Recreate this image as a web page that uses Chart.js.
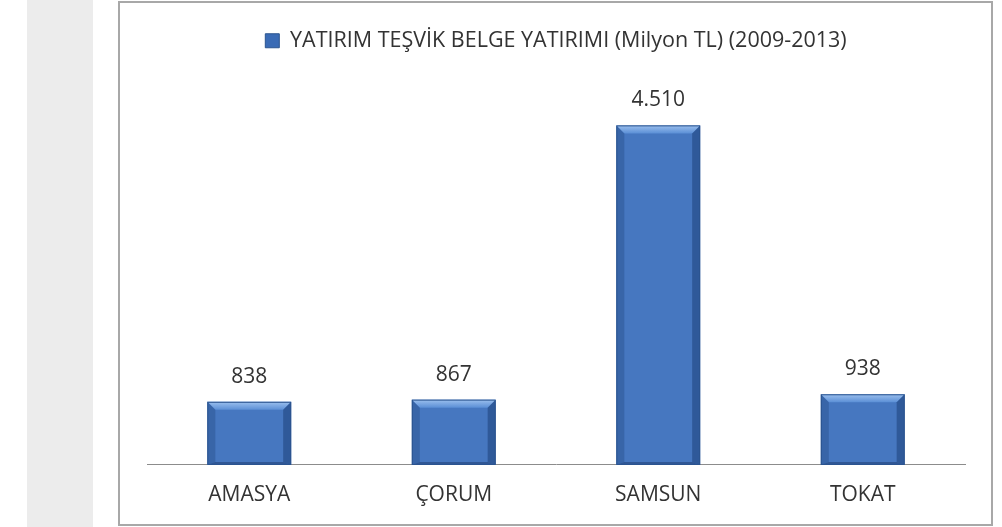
<!DOCTYPE html>
<html>
<head>
<meta charset="utf-8">
<script src="https://cdn.jsdelivr.net/npm/chart.js@4.4.1/dist/chart.umd.min.js"></script>
<style>
  html, body { margin: 0; padding: 0; background: #ffffff; }
  #wrap { position: absolute; left: 0; top: 0; width: 1002px; height: 527px; }
</style>
</head>
<body>
<div id="wrap"><canvas id="c" width="1002" height="527"></canvas></div>
<script>
const categories = ["AMASYA", "ÇORUM", "SAMSUN", "TOKAT"];
const seriesName = "YATIRIM TEŞVİK BELGE YATIRIMI (Milyon TL) (2009-2013)";
const seriesValues = [838, 867, 4510, 938];

const FONT = "'Open Sans', 'Noto Sans', sans-serif";
const TEXT = "#333333";

const frame = {
  id: 'frame',
  beforeDraw(chart) {
    const ctx = chart.ctx;
    ctx.save();
    ctx.fillStyle = '#ffffff';
    ctx.fillRect(0, 0, chart.width, chart.height);
    ctx.fillStyle = '#ececec';
    ctx.fillRect(27, 0, 66, chart.height);
    ctx.strokeStyle = '#a8a8a8';
    ctx.lineWidth = 2;
    ctx.strokeRect(119, 2, 873, 523);
    ctx.restore();
  }
};

const bevel = {
  id: 'bevel',
  afterDatasetsDraw(chart) {
    const ctx = chart.ctx;
    const meta = chart.getDatasetMeta(0);
    ctx.save();
    meta.data.forEach((bar, i) => {
      const p = bar.getProps(['x', 'y', 'base', 'width'], true);
      const l = p.x - p.width / 2, r = p.x + p.width / 2, t = p.y, b = p.base;
      const d = 8;
      let g = ctx.createLinearGradient(0, t, 0, t + d);
      g.addColorStop(0, '#9cc0ee');
      g.addColorStop(1, '#5b8fd6');
      ctx.fillStyle = g;
      ctx.beginPath();
      ctx.moveTo(l, t); ctx.lineTo(r, t); ctx.lineTo(r - d, t + d); ctx.lineTo(l + d, t + d); ctx.closePath();
      ctx.fill();
      ctx.fillStyle = 'rgba(40,80,140,0.45)';
      ctx.beginPath();
      ctx.moveTo(l, t); ctx.lineTo(l + d, t + d); ctx.lineTo(l + d, b - 3); ctx.lineTo(l, b); ctx.closePath();
      ctx.fill();
      ctx.fillStyle = 'rgba(30,65,120,0.55)';
      ctx.beginPath();
      ctx.moveTo(r, t); ctx.lineTo(r - d, t + d); ctx.lineTo(r - d, b - 3); ctx.lineTo(r, b); ctx.closePath();
      ctx.fill();
      ctx.fillStyle = 'rgba(25,55,105,0.5)';
      ctx.beginPath();
      ctx.moveTo(l, b); ctx.lineTo(l + d, b - 3); ctx.lineTo(r - d, b - 3); ctx.lineTo(r, b); ctx.closePath();
      ctx.fill();
      ctx.strokeStyle = '#2b548f';
      ctx.lineWidth = 1;
      ctx.strokeRect(l + 0.5, t + 0.5, p.width - 1, b - t - 1);
    });
    ctx.restore();
  }
};

const valueLabels = {
  id: 'valueLabels',
  afterDatasetsDraw(chart) {
    const ctx = chart.ctx;
    const meta = chart.getDatasetMeta(0);
    const ds = chart.data.datasets[0];
    ctx.save();
    ctx.font = "21px " + FONT;
    ctx.fillStyle = TEXT;
    ctx.textAlign = 'center';
    ctx.textBaseline = 'middle';
    meta.data.forEach((bar, i) => {
      const txt = ds.data[i].toLocaleString('tr-TR');
      ctx.fillText(txt, bar.x, bar.y - 25);
    });
    ctx.restore();
  }
};

new Chart(document.getElementById('c'), {
  type: 'bar',
  data: {
    labels: categories,
    datasets: [{
      label: seriesName,
      data: seriesValues,
      backgroundColor: '#4677c0',
      borderWidth: 0,
      barPercentage: 0.41,
      categoryPercentage: 1.0
    }]
  },
  options: {
    responsive: false,
    animation: false,
    devicePixelRatio: 1,
    layout: { padding: { left: 147, right: 37, top: 20, bottom: 1 } },
    plugins: {
      legend: {
        display: true,
        position: 'top',
        labels: {
          font: { family: FONT, size: 21.5 },
          color: TEXT,
          boxWidth: 14,
          boxHeight: 14,
          padding: 10,
          generateLabels(chart) {
            return [{
              text: seriesName,
              fillStyle: '#3a6bb5',
              strokeStyle: '#2b548f',
              lineWidth: 1,
              fontColor: TEXT,
              datasetIndex: 0
            }];
          }
        },
        onClick: null
      },
      subtitle: {
        display: true,
        text: ' ',
        weight: 0,
        position: 'top',
        font: { size: 1, lineHeight: 1 },
        padding: 13
      },
      tooltip: { enabled: false }
    },
    scales: {
      x: {
        grid: { display: false, drawTicks: false },
        border: { display: true, color: '#8c8c8c', width: 1 },
        ticks: { font: { family: FONT, size: 21, lineHeight: 1.1 }, color: TEXT, padding: 19 }
      },
      y: {
        display: false,
        min: 0,
        max: 5000
      }
    }
  },
  plugins: [frame, bevel, valueLabels]
});
</script>
</body>
</html>
